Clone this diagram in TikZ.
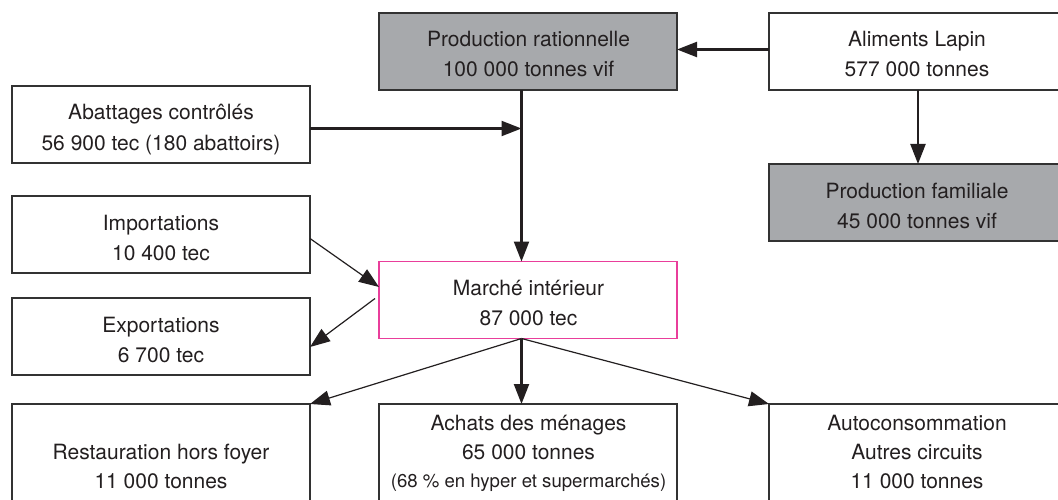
\documentclass[tikz,border=0pt]{standalone}
\usepackage{fontspec}
\setmainfont{TeX Gyre Heros}
\usetikzlibrary{arrows.meta,calc}
\definecolor{txtcol}{RGB}{35,31,32}
\definecolor{bordercol}{RGB}{50,50,50}
\definecolor{grayfill}{RGB}{167,169,172}
\definecolor{magentacol}{RGB}{233,62,155}
\tikzset{
  box/.style={draw=bordercol, line width=1.2pt, minimum width=298pt, minimum height=77pt, inner sep=0pt, outer sep=0pt, anchor=north west},
  shaded/.style={box, fill=grayfill},
  tall/.style={minimum height=130pt},
  txt/.style={anchor=base, inner sep=0pt, text=txtcol, font=\fontsize{21pt}{25pt}\selectfont},
  smalltxt/.style={txt, font=\fontsize{18.6pt}{22pt}\selectfont},
  thickarrow/.style={draw=txtcol, line width=2.2pt, -{Triangle[length=20pt,width=15pt]}},
  thinarrow/.style={draw=txtcol, line width=1.2pt, -{Triangle[length=20pt,width=15pt]}}
}
\begin{document}
\begin{tikzpicture}[x=1pt,y=-1pt]
\useasboundingbox (0,0) rectangle (1058,500);
\fill[white] (0,0) rectangle (1058,500);
\clip (0,0) rectangle (1058,500);
% boxes
\node[shaded] (prodR) at (379,13) {};
\node[box] (alim) at (769,13) {};
\node[box] (abat) at (12,86) {};
\node[shaded] (famil) at (769,164) {};
\node[box] (impo) at (12,196) {};
\node[box, draw=magentacol] (marche) at (379,261.5) {};
\node[box] (expo) at (12,298) {};
\node[box, tall] (rest) at (12,404) {};
\node[box, tall] (achats) at (379,404) {};
\node[box, tall] (auto) at (769,404) {};
% texts
\node[txt] (prodRa) at (528.5,47) {Production rationnelle};
\node[txt] (prodRb) at (528.5,77) {100 000 tonnes vif};
\node[txt] (alima) at (917,47) {Aliments Lapin};
\node[txt] (alimb) at (917,77) {577 000 tonnes};
\node[txt] (abata) at (161,120) {Abattages contrôlés};
\node[txt] (abatb) at (161,150) {56 900 tec (180 abattoirs)};
\node[txt] (famila) at (917,198) {Production familiale};
\node[txt] (familb) at (917,228) {45 000 tonnes vif};
\node[txt] (impoa) at (161,230) {Importations};
\node[txt] (impob) at (161,260) {10 400 tec};
\node[txt] (marchea) at (528.5,295.5) {Marché intérieur};
\node[txt] (marcheb) at (528.5,325.5) {87 000 tec};
\node[txt] (expoa) at (161,332) {Exportations};
\node[txt] (expob) at (161,362) {6 700 tec};
\node[txt] (resta) at (161,459) {Restauration hors foyer};
\node[txt] (restb) at (161,488) {11 000 tonnes};
\node[txt] (achatsa) at (528.5,430) {Achats des ménages};
\node[txt] (achatsb) at (528.5,459) {65 000 tonnes};
\node[smalltxt] (achatsc) at (528.5,487) {(68 \% en hyper et supermarchés)};
\node[txt] (autoa) at (917,430) {Autoconsommation};
\node[txt] (autob) at (917,459) {Autres circuits};
\node[txt] (autoc) at (917,488) {11 000 tonnes};
% connector points
\coordinate (vtop) at ($(prodR.south)+(-6.5,0)$);
\coordinate (vbot) at ($(marche.north)+(-6.5,0)$);
\coordinate (mout) at ($(marche.south)+(-6.5,0)$);
\coordinate (abatout) at ($(abat.east)+(0,4)$);
\coordinate (alimout) at ($(alim.west)+(0,-2)$);
\coordinate (impoout) at ($(impo.east)+(0,4)$);
\coordinate (marchein) at ($(marche.west)+(0,-13)$);
\coordinate (expostart) at ($(marche.west)+(-4,-1.5)$);
\coordinate (expoin) at ($(expo.east)+(0,10.5)$);
% connectors
\draw[thickarrow] (alimout) -- (alimout -| prodR.east);
\draw[thickarrow] (alim.south) -- (famil.north);
\draw[thickarrow] (vtop) -- (vbot);
\draw[thickarrow] (abatout) -- (abatout -| vtop);
\draw[thinarrow] (impoout) -- (marchein);
\draw[thinarrow] (expostart) -- (expoin);
\draw[thinarrow] (mout) -- (rest.north east);
\draw[thickarrow] (mout) -- (mout |- achats.north);
\draw[thinarrow] (mout) -- (auto.north west);
\end{tikzpicture}
\end{document}
